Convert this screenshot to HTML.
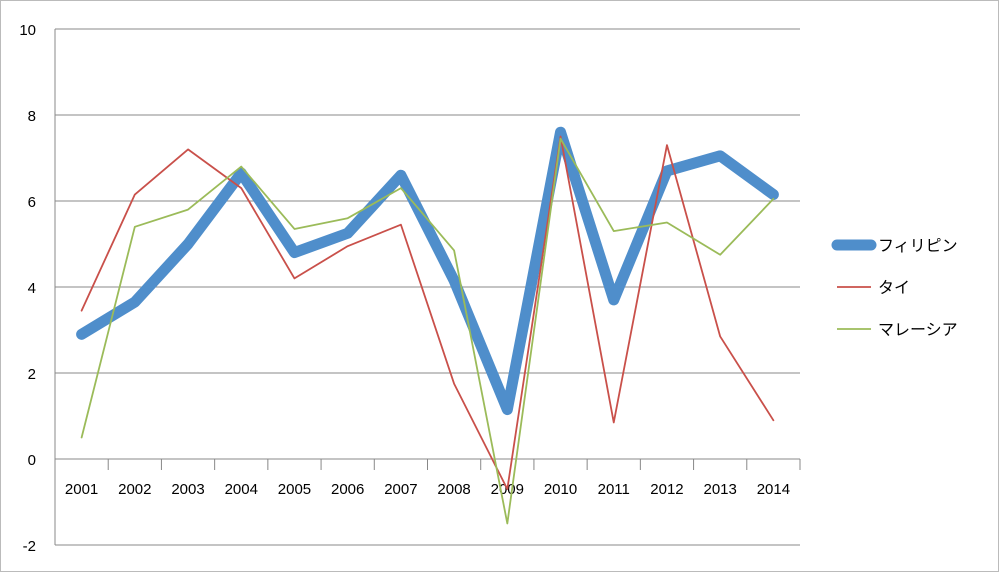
<!DOCTYPE html>
<html><head><meta charset="utf-8"><style>
body{margin:0;background:#fff;}
svg{display:block;font-family:"Liberation Sans","Noto Sans CJK JP",sans-serif;}
</style></head><body>
<svg id="chart" width="1000" height="573" viewBox="0 0 1000 573">
<rect x="0.5" y="0.5" width="998" height="571" fill="#fff" stroke="#bbb"/>
<g id="grid"></g><g id="axes"></g><g id="series"></g><g id="legend"></g>
</svg>
<script>
const categories=["2001","2002","2003","2004","2005","2006","2007","2008","2009","2010","2011","2012","2013","2014"];
const philippines=[2.9,3.65,5.0,6.65,4.8,5.25,6.6,4.15,1.15,7.6,3.7,6.7,7.05,6.15];
const thailand=[3.45,6.15,7.2,6.3,4.2,4.95,5.45,1.75,-0.7,7.5,0.85,7.3,2.85,0.9];
const malaysia=[0.5,5.4,5.8,6.8,5.35,5.6,6.3,4.85,-1.5,7.45,5.3,5.5,4.75,6.05];
const yTicks=[-2,0,2,4,6,8,10];
const seriesNames=["フィリピン","タイ","マレーシア"];
const NS="http://www.w3.org/2000/svg";
const L=55,R=800,band=(R-L)/categories.length;
const x=i=>L+band*(i+0.5);
const y=v=>459-v*43;
function mk(tag,attrs,parent){const e=document.createElementNS(NS,tag);for(const k in attrs)e.setAttribute(k,attrs[k]);parent.appendChild(e);return e;}
const grid=document.getElementById('grid'),axes=document.getElementById('axes'),ser=document.getElementById('series'),leg=document.getElementById('legend');
yTicks.forEach(t=>{
 const g=mk('line',{x1:L,x2:R,y1:y(t),y2:y(t),stroke:'#888','stroke-width':1},grid);
 
 
 const tx=mk('text',{x:36,y:y(t)+6,'text-anchor':'end','font-size':15,fill:'#000'},axes);
 tx.textContent=t;
 
 
});
const ya=mk('line',{x1:L,x2:L,y1:y(10),y2:y(-2),stroke:'#888'},axes);


for(let i=0;i<=categories.length;i++){
 const tk=mk('line',{x1:L+band*i,x2:L+band*i,y1:y(0),y2:y(0)+11,stroke:'#888'},axes);
 
 
}
categories.forEach((c,i)=>{
 const t=mk('text',{x:x(i),y:y(0)+35,'text-anchor':'middle','font-size':15,fill:'#000'},axes);
 t.textContent=c;
 
 
});
const defs=[[philippines,'#4f8ecb',11],[thailand,'#c9504a',1.8],[malaysia,'#9bbb59',1.8]];
defs.forEach((d,k)=>{
 const p=mk('polyline',{points:d[0].map((v,i)=>x(i)+','+y(v)).join(' '),fill:'none',stroke:d[1],'stroke-width':d[2],'stroke-linejoin':'round','stroke-linecap':'round'},ser);
 
 
 const ly=245+k*42;
 const ll=mk('line',{x1:837,x2:871,y1:ly,y2:ly,stroke:d[1],'stroke-width':d[2],'stroke-linecap':k==0?'round':'butt'},leg);
 
 
 const lt=mk('text',{x:878,y:ly+6,'font-size':16,fill:'#000'},leg);
 lt.textContent=seriesNames[k];
 
 
});
</script>
</body></html>
